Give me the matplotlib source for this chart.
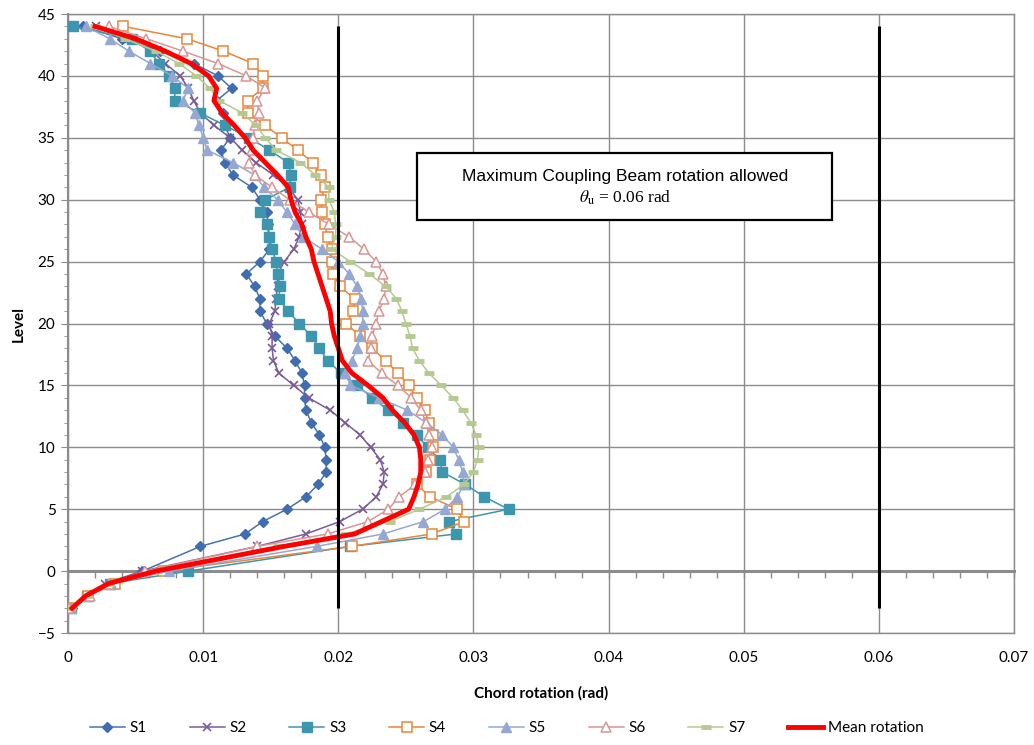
import numpy as np
import matplotlib
matplotlib.use("Agg")
import matplotlib.pyplot as plt
from matplotlib.patches import Rectangle
from matplotlib.ticker import MultipleLocator

plt.rcParams["font.family"] = ["Lato", "DejaVu Sans"]
plt.rcParams["mathtext.fontset"] = "stix"

# storey levels (no level 1 in the source data)
levels = [-3, -2, -1, 0] + list(range(2, 45))

s1 = [0.0003, 0.0015, 0.0030, 0.0055, 0.0098, 0.0131, 0.0144, 0.0162, 0.0176, 0.0185,
      0.0191, 0.0191, 0.0190, 0.0186, 0.0180, 0.0176, 0.0175, 0.0175, 0.0173, 0.0168,
      0.0162, 0.0153, 0.0147, 0.0142, 0.0142, 0.0138, 0.0132, 0.0142, 0.0149, 0.0149,
      0.0148, 0.0147, 0.0142, 0.0136, 0.0122, 0.0116, 0.0113, 0.0120, 0.0116, 0.0115,
      0.0110, 0.0121, 0.0111, 0.0093, 0.0068, 0.0040, 0.0011]
s2 = [0.0003, 0.0016, 0.0027, 0.0055, 0.0140, 0.0176, 0.0201, 0.0218, 0.0228, 0.0233,
      0.0234, 0.0231, 0.0224, 0.0216, 0.0205, 0.0194, 0.0178, 0.0167, 0.0156, 0.0152,
      0.0151, 0.0151, 0.0149, 0.0153, 0.0154, 0.0155, 0.0155, 0.0160, 0.0167, 0.0171,
      0.0173, 0.0172, 0.0170, 0.0163, 0.0152, 0.0139, 0.0129, 0.0120, 0.0108, 0.0098,
      0.0093, 0.0089, 0.0083, 0.0072, 0.0062, 0.0045, 0.0021]
s3 = [0.0002, 0.0014, 0.0031, 0.0089, 0.0209, 0.0287, 0.0282, 0.0326, 0.0308, 0.0294,
      0.0277, 0.0275, 0.0266, 0.0258, 0.0248, 0.0237, 0.0225, 0.0214, 0.0202, 0.0192,
      0.0186, 0.0180, 0.0171, 0.0163, 0.0156, 0.0157, 0.0155, 0.0154, 0.0151, 0.0149,
      0.0147, 0.0142, 0.0146, 0.0164, 0.0165, 0.0163, 0.0149, 0.0134, 0.0116, 0.0098,
      0.0079, 0.0079, 0.0075, 0.0067, 0.0061, 0.0047, 0.0004]
s4 = [0.0001, 0.0015, 0.0035, 0.0070, 0.0210, 0.0269, 0.0293, 0.0288, 0.0268, 0.0258,
      0.0265, 0.0268, 0.0270, 0.0270, 0.0267, 0.0264, 0.0258, 0.0252, 0.0244, 0.0235,
      0.0225, 0.0216, 0.0206, 0.0211, 0.0212, 0.0201, 0.0196, 0.0195, 0.0195, 0.0192,
      0.0190, 0.0188, 0.0187, 0.0190, 0.0187, 0.0181, 0.0170, 0.0158, 0.0146, 0.0133,
      0.0133, 0.0144, 0.0144, 0.0137, 0.0115, 0.0088, 0.0041]
s5 = [0.0002, 0.0015, 0.0032, 0.0075, 0.0184, 0.0233, 0.0263, 0.0279, 0.0288, 0.0293,
      0.0292, 0.0289, 0.0285, 0.0277, 0.0265, 0.0251, 0.0230, 0.0209, 0.0205, 0.0210,
      0.0214, 0.0216, 0.0218, 0.0218, 0.0217, 0.0214, 0.0208, 0.0200, 0.0188, 0.0174,
      0.0168, 0.0162, 0.0155, 0.0145, 0.0138, 0.0122, 0.0103, 0.0100, 0.0097, 0.0094,
      0.0085, 0.0089, 0.0077, 0.0061, 0.0045, 0.0031, 0.0013]
s6 = [0.0001, 0.0016, 0.0030, 0.0057, 0.0140, 0.0192, 0.0222, 0.0237, 0.0245, 0.0257,
      0.0264, 0.0266, 0.0269, 0.0267, 0.0265, 0.0261, 0.0254, 0.0244, 0.0232, 0.0222,
      0.0224, 0.0225, 0.0228, 0.0230, 0.0234, 0.0235, 0.0233, 0.0228, 0.0219, 0.0208,
      0.0193, 0.0178, 0.0164, 0.0151, 0.0138, 0.0134, 0.0136, 0.0137, 0.0138, 0.0141,
      0.0140, 0.0146, 0.0132, 0.0111, 0.0085, 0.0058, 0.0030]
s7 = [0.0002, 0.0014, 0.0030, 0.0065, 0.0155, 0.0205, 0.0238, 0.0260, 0.0280, 0.0293,
      0.0300, 0.0303, 0.0304, 0.0302, 0.0298, 0.0292, 0.0285, 0.0276, 0.0267, 0.0260,
      0.0255, 0.0253, 0.0250, 0.0247, 0.0243, 0.0235, 0.0223, 0.0209, 0.0195, 0.0198,
      0.0198, 0.0197, 0.0193, 0.0193, 0.0183, 0.0172, 0.0154, 0.0146, 0.0139, 0.0129,
      0.0112, 0.0105, 0.0095, 0.0082, 0.0065, 0.0042, 0.0020]
mean_rot = [0.0003, 0.0013, 0.0030, 0.0065, 0.0160, 0.0212, 0.0232, 0.0252, 0.0256, 0.0259,
            0.0261, 0.0261, 0.0260, 0.0256, 0.0249, 0.0240, 0.0233, 0.0222, 0.0210, 0.0203,
            0.0200, 0.0197, 0.0195, 0.0194, 0.0191, 0.0188, 0.0185, 0.0182, 0.0180, 0.0176,
            0.0173, 0.0168, 0.0165, 0.0163, 0.0155, 0.0146, 0.0137, 0.0131, 0.0123, 0.0114,
            0.0108, 0.0110, 0.0104, 0.0091, 0.0072, 0.0050, 0.0020]

limit_lines = [0.02, 0.06]
limit_span = (-3, 44)

x_ticks = [0, 0.01, 0.02, 0.03, 0.04, 0.05, 0.06, 0.07]
x_labels = ["0", "0.01", "0.02", "0.03", "0.04", "0.05", "0.06", "0.07"]

series = [
    ("S1", s1, dict(color="#4572B4", marker="D", ms=5, mfc="#3F6DB0", mec="#3F6DB0")),
    ("S2", s2, dict(color="#7B5A9A", marker="x", ms=6, mew=1.2)),
    ("S3", s3, dict(color="#3D96AE", marker="s", ms=6.5, mfc="#3D96AE", mec="#3D96AE")),
    ("S4", s4, dict(color="#E8863A", marker="s", ms=7, mfc="white", mec="#E8863A", mew=1.1)),
    ("S5", s5, dict(color="#94A8D2", marker="^", ms=7, mfc="#94A8D2", mec="#94A8D2")),
    ("S6", s6, dict(color="#D99694", marker="^", ms=7, mfc="white", mec="#D99694", mew=1.1)),
    ("S7", s7, dict(color="#B5CA92", marker="_", ms=7, mew=3.5)),
]

fig = plt.figure(figsize=(10.34, 7.45), dpi=100)
ax = fig.add_axes([0.0658, 0.1503, 0.9149, 0.8309])

grid_c = "#8C8C8C"
for name, vals, kw in series:
    ax.plot(vals, levels, lw=1.1, label=name, zorder=3, **kw)
ax.plot(mean_rot, levels, color="#FF0000", lw=3.5, label="Mean rotation", zorder=4,
        solid_joinstyle="round")

ax.vlines(limit_lines, *limit_span, color="black", lw=2.2, zorder=5)

ax.set_xlim(0, 0.07)
ax.set_ylim(-5, 45)
ax.set_xticks(x_ticks)
ax.set_xticklabels(x_labels)
ax.yaxis.set_major_locator(MultipleLocator(5))
ax.yaxis.set_minor_locator(MultipleLocator(1))
ax.grid(True, which="major", color=grid_c, lw=1)
ax.set_axisbelow(True)
for sp in ax.spines.values():
    sp.set_color(grid_c)
    sp.set_linewidth(1)
ax.spines["left"].set_linewidth(1.5)
ax.tick_params(axis="x", length=0, pad=13, labelsize=11)
ax.tick_params(axis="y", which="major", length=5, color=grid_c, labelsize=11, pad=4)
ax.tick_params(axis="y", which="minor", length=3, color=grid_c)

# horizontal axis crossing at level 0 with minor ticks
zero_frac = (0 - (-5)) / 50
sec = ax.secondary_xaxis(zero_frac)
sec.spines["bottom"].set_color(grid_c)
sec.spines["bottom"].set_linewidth(2.2)
sec.xaxis.set_major_locator(MultipleLocator(0.002))
sec.tick_params(axis="x", length=5, color=grid_c, labelbottom=False, width=1)

ax.set_xlabel("Chord rotation (rad)", fontweight="bold", fontsize=11, labelpad=15)
ax.set_ylabel("Level", fontweight="bold", fontsize=11, labelpad=9)

ax.add_patch(Rectangle((0.369, 0.667), 0.439, 0.109, transform=ax.transAxes,
                       fill=True, fc="white", ec="black", lw=1.6, zorder=6))
ax.text(0.5885, 0.738, "Maximum Coupling Beam rotation allowed", transform=ax.transAxes,
        ha="center", va="center", fontsize=12.5, family="Liberation Sans", zorder=7)
ax.text(0.5885, 0.703, r"$\theta_\mathrm{u}$ = 0.06 rad", transform=ax.transAxes,
        ha="center", va="center", fontsize=12.5, family="Liberation Serif", zorder=7)

fig.legend(loc="lower center", bbox_to_anchor=(0.49, -0.005), ncol=8, frameon=False,
           fontsize=11, handlelength=2.3, columnspacing=2.8, handletextpad=0.3)

fig.savefig("out.png", dpi=100)
